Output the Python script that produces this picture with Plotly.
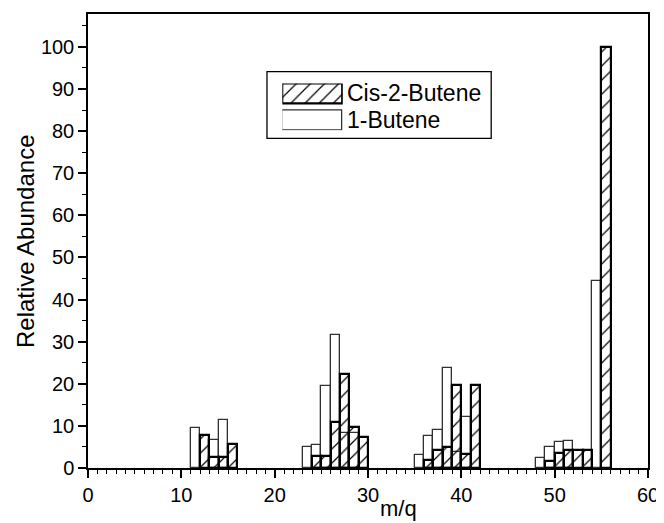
import plotly.graph_objects as go

# m/q (left edge of each unit-wide bar) and relative abundance
cis_mq = [12, 13, 14, 15, 24, 25, 26, 27, 28, 29, 36, 37, 38, 39, 40, 41, 49, 50, 51, 52, 53, 55]
cis_val = [7.9, 2.6, 2.6, 5.7, 2.9, 2.9, 10.9, 22.4, 9.7, 7.4, 2.0, 4.2, 4.9, 19.8, 3.4, 19.8,
           1.7, 3.6, 4.2, 4.2, 4.3, 100]

but_mq = [11, 13, 14, 23, 24, 25, 26, 27, 28, 35, 36, 37, 38, 39, 40, 48, 49, 50, 51, 54]
but_val = [9.5, 6.7, 11.4, 4.9, 5.4, 19.5, 31.6, 8.4, 8.4, 3.2, 7.5, 9.1, 23.7, 3.7, 12.1,
           2.4, 4.9, 6.1, 6.4, 44.4]

series_names = ["Cis-2-Butene", "1-Butene"]
x_ticks = [0, 10, 20, 30, 40, 50, 60]
y_ticks = [0, 10, 20, 30, 40, 50, 60, 70, 80, 90, 100]

FONT = "Liberation Sans, Arial, sans-serif"
hatch = dict(shape="/", fgcolor="black", size=10, solidity=0.12, fillmode="replace")

fig = go.Figure()
fig.add_trace(go.Bar(x=but_mq, y=but_val, name=series_names[1], width=1, offset=0,
                     marker=dict(color="white", line=dict(color="#303030", width=1.3)),
                     showlegend=False))
fig.add_trace(go.Bar(x=cis_mq, y=cis_val, name=series_names[0], width=1, offset=0,
                     marker=dict(color="black", pattern=hatch, line=dict(color="black", width=2.2)),
                     showlegend=False))

# legend keys (inset axes)
fig.add_trace(go.Bar(x=[1], y=[1.835], orientation="h", width=1, xaxis="x2", yaxis="y2",
                     marker=dict(color="black", pattern=hatch, line=dict(color="black", width=2.2)),
                     showlegend=False, hoverinfo="skip"))
fig.add_trace(go.Bar(x=[1], y=[0.5], orientation="h", width=1, xaxis="x2", yaxis="y2",
                     marker=dict(color="white", line=dict(color="#303030", width=1.3)),
                     showlegend=False, hoverinfo="skip"))

axis_common = dict(showline=True, linecolor="black", linewidth=1.5, mirror=True,
                   ticks="outside", ticklen=8, tickwidth=1.5, tickcolor="black",
                   showgrid=False, zeroline=False, automargin=False,
                   tickfont=dict(family=FONT, size=20, color="black"))

# page body has an 8px margin, so the figure is 8px smaller than the window
fig.update_layout(
    width=656, height=515,
    margin=dict(l=80, r=16, t=6, b=55, autoexpand=False),
    paper_bgcolor="white", plot_bgcolor="white",
    barmode="overlay", bargap=0,
    xaxis=dict(range=[0, 60], tickvals=x_ticks,
               minor=dict(dtick=1, ticks="outside", ticklen=4, tickwidth=1.2, tickcolor="black"),
               **axis_common),
    yaxis=dict(range=[0, 107.8], tickvals=y_ticks,
               minor=dict(dtick=5, ticks="outside", ticklen=4, tickwidth=1.2, tickcolor="black"),
               **axis_common),
    xaxis2=dict(domain=[0.347, 0.455], range=[0, 1], visible=False, anchor="y2"),
    yaxis2=dict(domain=[0.744, 0.847], range=[0, 2.335], visible=False, anchor="x2"),
    showlegend=False,
)

# axis titles
fig.add_annotation(xref="x", yref="paper", x=33.3, y=0, yshift=-55, text="m/q",
                   showarrow=False, xanchor="center", yanchor="bottom",
                   font=dict(family=FONT, size=22, color="black"))
fig.add_annotation(xref="paper", yref="paper", x=0, xshift=-63, y=0.5, text="Relative Abundance",
                   textangle=-90, showarrow=False, xanchor="center", yanchor="middle",
                   font=dict(family=FONT, size=24, color="black"))

# legend box and labels
fig.add_shape(type="rect", xref="paper", yref="paper", x0=0.3196, x1=0.72, y0=0.726, y1=0.873,
              line=dict(color="black", width=1.3), fillcolor="rgba(0,0,0,0)")
fig.add_annotation(xref="paper", yref="paper", x=0.459, y=0.825, text=series_names[0],
                   showarrow=False, xanchor="left", yanchor="middle",
                   font=dict(family=FONT, size=23, color="black"))
fig.add_annotation(xref="paper", yref="paper", x=0.459, y=0.767, text=series_names[1],
                   showarrow=False, xanchor="left", yanchor="middle",
                   font=dict(family=FONT, size=23, color="black"))

fig.write_html("out.html")
